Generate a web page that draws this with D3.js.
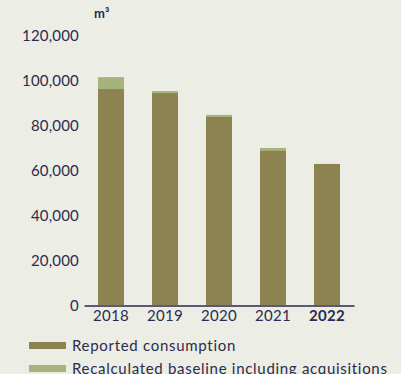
<!DOCTYPE html>
<html>
<head>
<meta charset="utf-8">
<script src="https://cdn.jsdelivr.net/npm/d3@7"></script>
<style>
  body { margin: 0; background: #ecede4; overflow: hidden; }
  text { font-family: "Lato", "Open Sans", sans-serif; fill: #2b2b50; }
</style>
</head>
<body>
<script>
// data
var years = ['2018', '2019', '2020', '2021', '2022'];
var reported = [96200, 94400, 83800, 68700, 62900];
var baseline = [101500, 95300, 84700, 70000, 62900];
var yTicks = [0, 20000, 40000, 60000, 80000, 100000, 120000];
var legendLabels = ['Reported consumption', 'Recalculated baseline including acquisitions'];

var colReported = '#8c8350';
var colBaseline = '#a5b37c';

var svg = d3.select('body').append('svg')
            .attr('width', 401)
            .attr('height', 374)
            .style('display', 'block')
            .style('background', '#ecede4');

var x = d3.scaleBand()
          .domain(years)
          .range([84, 354])
          .paddingInner(0.52)
          .paddingOuter(0.26);

var y = d3.scaleLinear()
          .domain([0, 120000])
          .range([305.5, 35.5]);

// y labels (no axis line)
const groupeY = svg.append('g').attr('transform', 'translate(79,0)');
groupeY.call(d3.axisLeft(y).tickValues(yTicks).tickSize(0).tickPadding(0).tickFormat(d3.format(',')))
       .call(g => g.select('.domain').remove());
groupeY.selectAll('text')
       .style('font-size', '15px')
       .style('font-family', '"Lato", sans-serif')
       .style('letter-spacing', '0.2px')
       .attr('fill', '#2b2b50');

// unit
svg.append('text')
   .attr('x', 94).attr('y', 18)
   .style('font-size', '13px')
   .style('font-weight', 'bold')
   .text('m³');

// baseline bars behind, reported on top
svg.selectAll('.base').data(years).enter().append('rect')
   .attr('x', d => x(d))
   .attr('width', x.bandwidth())
   .attr('y', (d, i) => y(baseline[i]))
   .attr('height', (d, i) => y(0) - y(baseline[i]))
   .attr('fill', colBaseline);

svg.selectAll('.rep').data(years).enter().append('rect')
   .attr('x', d => x(d))
   .attr('width', x.bandwidth())
   .attr('y', (d, i) => y(reported[i]))
   .attr('height', (d, i) => y(0) - y(reported[i]))
   .attr('fill', colReported);

// x axis
const groupeX = svg.append('g').attr('transform', `translate(0, ${y(0)})`);
groupeX.call(d3.axisBottom(x).tickSize(0).tickPadding(5).tickSizeOuter(0));
groupeX.select('.domain').attr('stroke', '#5a5a78').attr('stroke-width', 2);
groupeX.selectAll('text')
       .style('font-size', '15px')
       .style('font-family', '"Lato", sans-serif')
       .style('letter-spacing', '0.3px')
       .attr('fill', '#2b2b50')
       .style('font-weight', d => d === '2022' ? 'bold' : 'normal');

// legend
var legend = svg.selectAll('.leg').data(legendLabels).enter().append('g')
                .attr('transform', (d, i) => `translate(29, ${342 + i * 23})`);
legend.append('rect')
      .attr('width', 37).attr('height', 7)
      .attr('fill', (d, i) => i === 0 ? colReported : colBaseline);
legend.append('text')
      .attr('x', 43).attr('y', 9)
      .style('font-size', '15px')
      .style('letter-spacing', '0.7px')
      .text(d => d);
</script>
</body>
</html>
